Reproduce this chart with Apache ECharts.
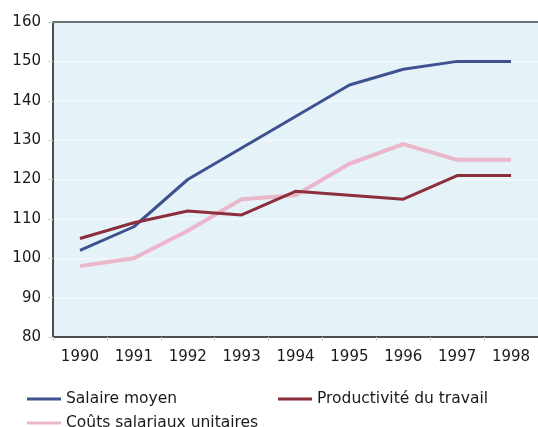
<!DOCTYPE html>
<html>
<head>
<meta charset="utf-8">
<script src="https://cdn.jsdelivr.net/npm/echarts@6/dist/echarts.min.js"></script>
<style>
    html, body { margin: 0; padding: 0; background: #fff; }
    #chart { width: 538px; height: 427px; }
</style>
</head>
<body>
<div id="chart"></div>
<script>
// données
const years = ['1990', '1991', '1992', '1993', '1994', '1995', '1996', '1997', '1998']
const salaireMoyen = [102, 108, 120, 128, 136, 144, 148, 150, 150]
const productivite = [105, 109, 112, 111, 117, 116, 115, 121, 121]
const coutsSalariaux = [98, 100, 107, 115, 116, 124, 129, 125, 125]

const font = 'DejaVu Sans'
const txt = { fontFamily: font, fontSize: 15, color: '#1a1a1a' }

// une légende par élément, placée à la main (deux colonnes)
function legendItem(name, left, top) {
    return {
        data: [name],
        left: left, top: top,
        icon: 'rect', itemWidth: 34, itemHeight: 3,
        textStyle: Object.assign({}, txt, { fontSize: 15.5 })
    }
}

const chart = echarts.init(document.getElementById('chart'))

chart.setOption({
    animation: false,
    backgroundColor: '#fff',
    grid: {
        left: 53, right: 0, top: 22, bottom: 90,
        show: true,
        backgroundColor: '#e5f3f8',
        borderWidth: 0
    },
    legend: [
        legendItem('Salaire moyen', 22, 386),
        legendItem('Productivité du travail', 273, 386),
        legendItem('Coûts salariaux unitaires', 22, 410)
    ],
    xAxis: [
        {
            type: 'category',
            data: years,
            axisLine: { lineStyle: { color: '#4a4f52', width: 2 } },
            axisTick: { show: true, length: 4, lineStyle: { color: '#c8d0d2' } },
            axisLabel: Object.assign({ margin: 13 }, txt),
            splitLine: { show: false }
        },
        {
            // bord supérieur
            type: 'category',
            position: 'top',
            data: years,
            axisLine: { lineStyle: { color: '#6b7073', width: 2 } },
            axisTick: { show: false },
            axisLabel: { show: false }
        }
    ],
    yAxis: {
        type: 'value',
        min: 80, max: 160, interval: 10,
        axisLine: { show: true, lineStyle: { color: '#4a4f52', width: 2 } },
        axisTick: { show: true, length: 5, lineStyle: { color: '#cfd6d8' } },
        axisLabel: Object.assign({ margin: 12 }, txt),
        splitLine: { show: true, lineStyle: { color: '#f2f9fb', width: 1.5 } }
    },
    series: [
        {
            name: 'Salaire moyen', type: 'line', data: salaireMoyen,
            symbol: 'none', color: '#3f5290',
            lineStyle: { width: 3 }, z: 3
        },
        {
            name: 'Productivité du travail', type: 'line', data: productivite,
            symbol: 'none', color: '#8c2f3c',
            lineStyle: { width: 3 }, z: 4
        },
        {
            name: 'Coûts salariaux unitaires', type: 'line', data: coutsSalariaux,
            symbol: 'none', color: '#eab7cb',
            lineStyle: { width: 4 }, z: 2
        }
    ]
})
</script>
</body>
</html>
